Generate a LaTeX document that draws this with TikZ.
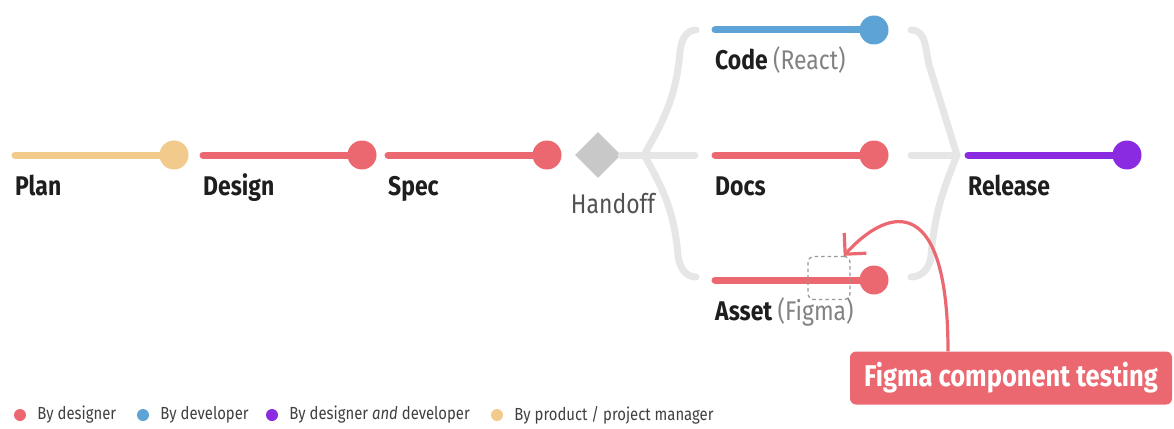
\documentclass[tikz,border=0pt]{standalone}
\usepackage{fontspec}
\setmainfont{Fira Sans}[FakeStretch=0.85]
\usepackage{xcolor}
\usepackage{tikz}
\usetikzlibrary{arrows.meta, positioning, shapes.geometric}
\definecolor{designred}{RGB}{236,104,112}
\definecolor{devblue}{RGB}{94,163,213}
\definecolor{bothpurple}{RGB}{138,43,226}
\definecolor{pmbeige}{RGB}{242,202,140}
\definecolor{flowgrey}{RGB}{230,230,230}
\definecolor{gategrey}{RGB}{200,200,200}
\definecolor{inkdark}{RGB}{30,30,30}
\definecolor{softgrey}{RGB}{130,130,130}
\newcommand{\toolname}[1]{{\mdseries\color{softgrey}#1}}

\begin{document}
\begin{tikzpicture}[x=1pt,y=-1pt,
  dot/.style={circle,minimum size=29pt,inner sep=0pt},
  track/.style={line width=7pt,line cap=round},
  link/.style={line width=7pt,line cap=round,draw=flowgrey},
  lbl/.style={anchor=base west,inner sep=0pt,text=inkdark,
              font=\fontsize{27}{32}\selectfont\bfseries},
  gate/.style={diamond,fill=gategrey,minimum size=46pt,inner sep=0pt},
  callout/.style={rounded corners=6pt,fill=designred,text=white,
                  minimum width=322pt,minimum height=53pt,
                  font=\fontsize{30}{36}\selectfont\bfseries},
  arr/.style={-{Straight Barb[length=15pt,width=30pt]},line width=3.2pt,draw=designred},
  key/.style={circle,minimum size=12pt,inner sep=0pt},
  keytext/.style={anchor=west,inner sep=0pt,text=black!75,
                  font=\fontsize{17.5}{21}\selectfont}
]
\useasboundingbox (0,0) rectangle (1174,428);

% Stages
\foreach \id/\x/\y/\col/\txt in {plan/15/155/pmbeige/Plan,
    design/203/155/designred/Design, spec/388/155/designred/Spec,
    code/715/30/devblue/{Code \toolname{(React)}},
    docs/715/155/designred/Docs,
    asset/715/280/designred/{Asset \toolname{(Figma)}},
    release/968/155/bothpurple/Release} {
  \coordinate (\id-in) at (\x,\y);
  \draw[track,draw=\col] (\id-in) -- (\x+159,\y) node[dot,fill=\col] (\id) {};
  \node[lbl] (\id-lbl) at ([yshift=-40pt]\id-in) {\txt};
}

% Handoff
\node[gate] (handoff) at (598,155) {};
\node[anchor=base,inner sep=0pt,text=black!68,font=\fontsize{27}{32}\selectfont]
  (handoff-lbl) at (613,213) {Handoff};

% Split and merge
\coordinate (split) at (644,155);
\coordinate (merge) at (957,155);
\draw[link] (handoff.east) -- (split) -- ([xshift=-20pt]docs-in);
\draw[link] (split) to[out=60,in=-95] (680,52) to[out=85,in=180] ([xshift=-19pt]code-in);
\draw[link] (split) to[out=-60,in=95] (678,255) to[out=-85,in=180] ([xshift=-19pt,yshift=3pt]asset-in);
\draw[link] ([xshift=19pt]code.east) to[out=0,in=108] (930,68) -- (merge);
\draw[link] ([xshift=19pt]docs.east) -- (merge);
\draw[link] (merge) to[out=-112,in=85] (931,256) to[out=-95,in=0] ([xshift=19pt,yshift=3pt]asset.east);

% Figma testing
\node[draw=black!40,dashed,dash pattern=on 3.5pt off 3pt,line width=1.3pt,
      rounded corners=6pt,minimum width=42pt,minimum height=43pt,inner sep=0pt]
  (focus) at (829,278) {};
\node[callout] (callout) at (1011,378) {Figma component testing};
\draw[arr] ([xshift=-63pt]callout.north) .. controls +(0,-157) and (890,205)
  .. ([xshift=-7pt]focus.north east);

% Legend
\foreach \k/\x/\col/\txt in {dsg/20/designred/By designer,
    dev/143/devblue/By developer,
    both/272/bothpurple/{By designer \textit{and} developer},
    pm/497/pmbeige/{By product / project manager}} {
  \node[key,fill=\col] (key-\k) at (\x,415) {};
  \node[keytext,right=11pt of key-\k] (keytxt-\k) {\txt};
}

\end{tikzpicture}
\end{document}
